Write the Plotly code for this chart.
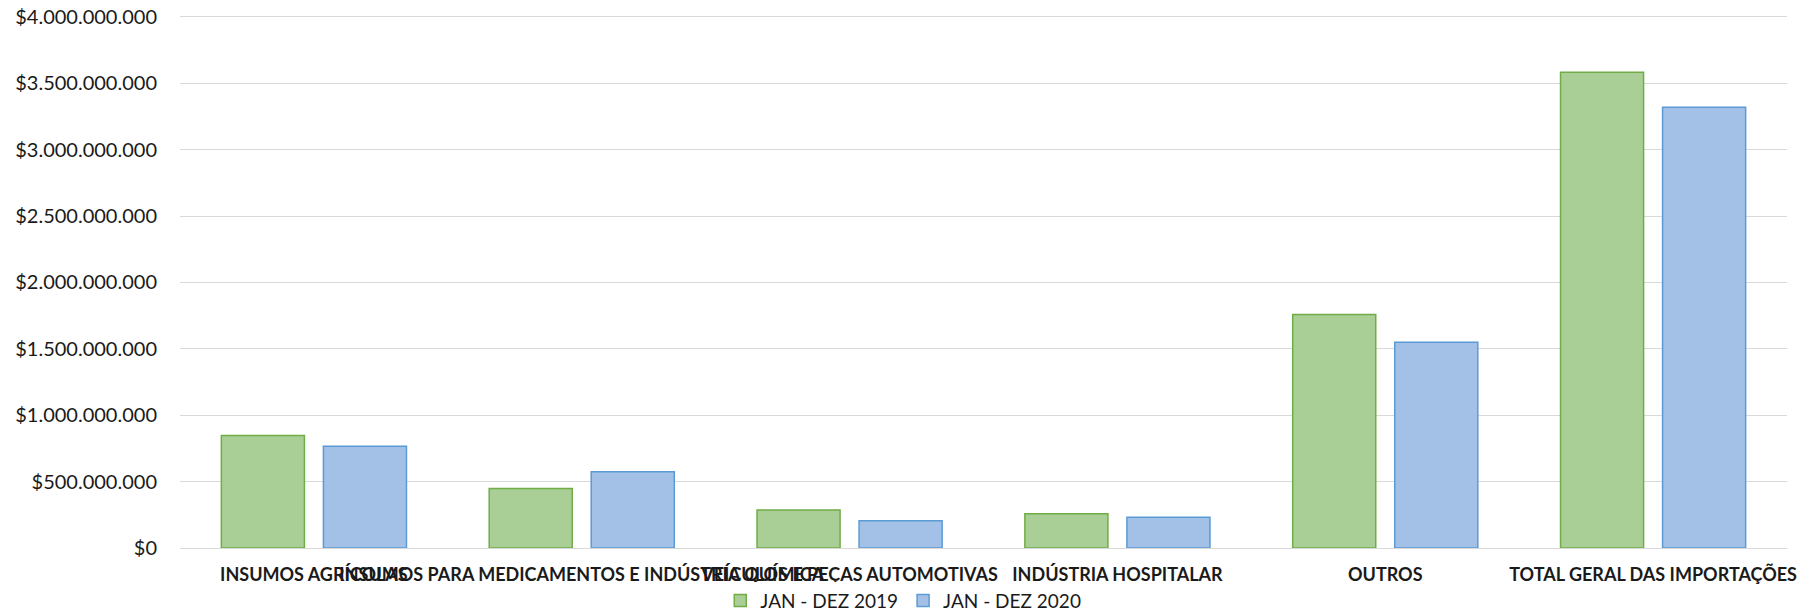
import plotly.graph_objects as go

categories = [
    "INSUMOS AGRÍCOLAS",
    "INSUMOS PARA MEDICAMENTOS E INDÚSTRIA QUÍMICA",
    "VEÍCULOS E PEÇAS AUTOMOTIVAS",
    "INDÚSTRIA HOSPITALAR",
    "OUTROS",
    "TOTAL GERAL DAS IMPORTAÇÕES",
]
series_names = ["JAN - DEZ 2019", "JAN - DEZ 2020"]
values_2019 = [847e6, 449e6, 286e6, 258e6, 1759e6, 3583e6]
values_2020 = [767e6, 574e6, 205e6, 231e6, 1549e6, 3320e6]

FONT = "Lato, Open Sans, Liberation Sans, Arial, sans-serif"
TXT = "#1a1a1a"

fig = go.Figure()
fig.add_trace(go.Bar(
    x=categories, y=values_2019, name=series_names[0],
    marker=dict(color="#A9CF96", line=dict(color="#70AD47", width=1.5)),
))
fig.add_trace(go.Bar(
    x=categories, y=values_2020, name=series_names[1],
    marker=dict(color="#A3C1E6", line=dict(color="#5B9BD5", width=1.5)),
))

# the page body adds an 8px offset; the figure is sized to fit the window
fig.update_layout(
    width=1805, height=606,
    margin=dict(l=172, r=26, t=1, b=66, autoexpand=False),
    paper_bgcolor="white", plot_bgcolor="white",
    barmode="group", bargap=0.238, bargroupgap=0.186,
    separators=",.",
    font=dict(family=FONT, size=20, color=TXT),
    showlegend=True,
    legend=dict(
        orientation="h", xref="container", yref="container",
        x=0.496, xanchor="center", y=0.022, yanchor="middle",
        font=dict(family=FONT, size=19, color=TXT), traceorder="normal",
    ),
    xaxis=dict(
        tickangle=0, showgrid=False, showline=False, ticks="", automargin=False,
        ticklabelstandoff=14, ticklabeloverflow="allow",
        tickfont=dict(family=FONT, size=18, color=TXT, weight="bold"),
    ),
    yaxis=dict(
        range=[0, 4.06e9], dtick=5e8, tickprefix="$", tickformat=",.0f",
        showgrid=True, gridcolor="#D9D9D9", gridwidth=1, automargin=False,
        zeroline=True, zerolinecolor="#D9D9D9", zerolinewidth=1,
        showline=False, ticks="", ticklabelstandoff=22, ticklabeloverflow="allow",
        tickfont=dict(family=FONT, size=20, color=TXT),
    ),
)

fig.write_html("out.html")
